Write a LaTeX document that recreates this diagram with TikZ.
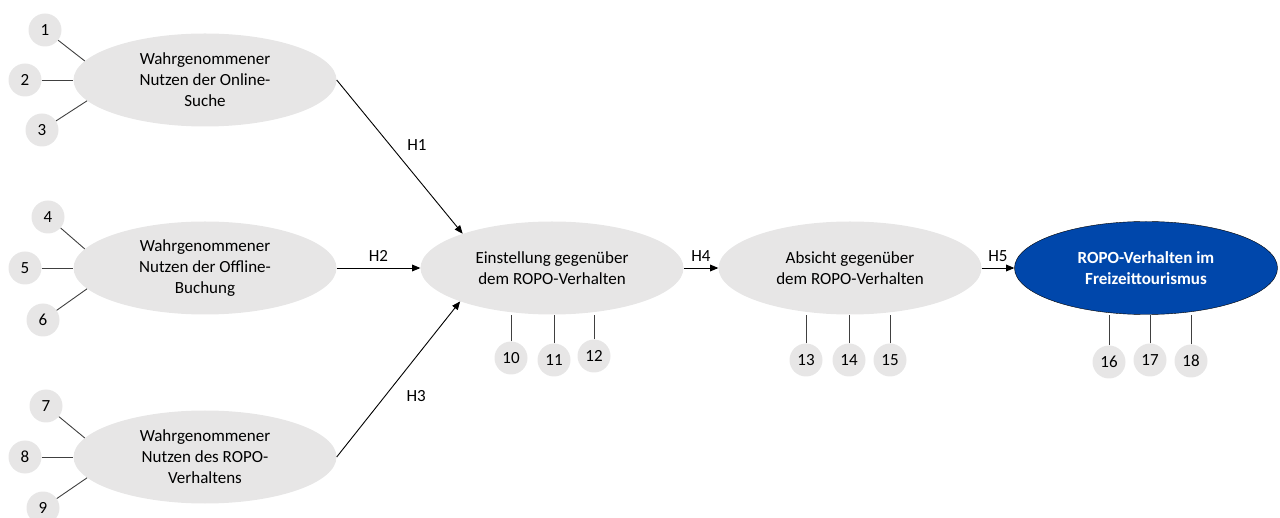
\documentclass[tikz,border=0pt]{standalone}
\usepackage{fontspec}
\setmainfont{Carlito}
\usepackage{tikz}
\usepackage{xcolor}
\usetikzlibrary{arrows,shapes}
\definecolor{construct_gray}{RGB}{231,230,230}
\definecolor{target_blue}{RGB}{0,71,171}
\tikzset{every scope/.style={>=triangle 45}}
\tikzstyle{construct} =
  [ ellipse
  , fill=construct_gray
  , minimum width=263pt
  , minimum height=93pt
  , inner sep=0pt
  , align=center
  , font=\fontsize{17}{21}\selectfont
  ]
\tikzstyle{target_construct} =
  [ construct
  , fill=target_blue
  , draw=black
  , text=white
  , font=\fontsize{17}{21}\selectfont\bfseries
  ]
\tikzstyle{item} =
  [ circle
  , fill=construct_gray
  , minimum size=33pt
  , inner sep=0pt
  , font=\fontsize{17}{21}\selectfont
  ]
\tikzstyle{item_line} = [draw=black!75, line width=0.9pt]
\tikzstyle{path_arrow} = [->, draw=black, line width=0.9pt]
\tikzstyle{hyp} = [font=\fontsize{17}{21}\selectfont]

\begin{document}
\begin{tikzpicture}[x=1pt,y=-1pt]
    \useasboundingbox (0,0) rectangle (1280,518);

    % exogenous constructs
    \node[construct] (benefit_online)  at (205, 80)  {Wahrgenommener\\Nutzen der Online-\\Suche};
    \node[construct] (benefit_offline) at (205, 268) {Wahrgenommener\\Nutzen der Offline-\\Buchung};
    \node[construct] (benefit_ropo)    at (205, 457) {Wahrgenommener\\Nutzen des ROPO-\\Verhaltens};

    % endogenous constructs
    \node[construct]        (attitude)  at (552, 268)  {Einstellung gegenüber\\dem ROPO-Verhalten};
    \node[construct]        (intention) at (850, 268)  {Absicht gegenüber\\dem ROPO-Verhalten};
    \node[target_construct] (behaviour) at (1146, 268) {ROPO-Verhalten im\\Freizeittourismus};

    % indicators
    \node[item] (item1)  at (45, 30)   {1};
    \node[item] (item2)  at (25, 80)   {2};
    \node[item] (item3)  at (42, 130)  {3};
    \node[item] (item4)  at (48, 217)  {4};
    \node[item] (item5)  at (25, 268)  {5};
    \node[item] (item6)  at (43, 320)  {6};
    \node[item] (item7)  at (46, 406)  {7};
    \node[item] (item8)  at (25, 457)  {8};
    \node[item] (item9)  at (43, 508)  {9};
    \node[item] (item10) at (511, 358) {10};
    \node[item] (item11) at (554, 360) {11};
    \node[item] (item12) at (594, 356) {12};
    \node[item] (item13) at (806, 360) {13};
    \node[item] (item14) at (849, 360) {14};
    \node[item] (item15) at (890, 360) {15};
    \node[item] (item16) at (1109, 362) {16};
    \node[item] (item17) at (1150, 360) {17};
    \node[item] (item18) at (1191, 361) {18};

    \draw[item_line] (item1) -- (benefit_online.171);
    \draw[item_line] (item2) -- (benefit_online.west);
    \draw[item_line] (item3) -- (benefit_online.190);
    \draw[item_line] (item4) -- (benefit_offline.171);
    \draw[item_line] (item5) -- (benefit_offline.west);
    \draw[item_line] (item6) -- (benefit_offline.190);
    \draw[item_line] (item7) -- (benefit_ropo.171);
    \draw[item_line] (item8) -- (benefit_ropo.west);
    \draw[item_line] (item9) -- (benefit_ropo.190);
    \foreach \i in {10,11,12} {\draw[item_line] (item\i.north) -- (item\i.north |- attitude.south);}
    \foreach \i in {13,14,15} {\draw[item_line] (item\i.north) -- (item\i.north |- intention.south);}
    \foreach \i in {16,17,18} {\draw[item_line] (item\i.north) -- (item\i.north |- behaviour.south);}

    % hypotheses
    \draw[path_arrow] (benefit_online.east)  -- node[hyp, pos=0.42, right=14pt]{H1} (attitude.159);
    \draw[path_arrow] (benefit_offline.east) -- node[hyp, midway, above=3pt]{H2} (attitude.west);
    \draw[path_arrow] (benefit_ropo.east)    -- node[hyp, pos=0.39, right=18pt]{H3} (attitude.200);
    \draw[path_arrow] (attitude.east)  -- node[hyp, midway, above=3pt]{H4} (intention.west);
    \draw[path_arrow] (intention.east) -- node[hyp, midway, above=3pt]{H5} (behaviour.west);
  \end{tikzpicture}
\end{document}
